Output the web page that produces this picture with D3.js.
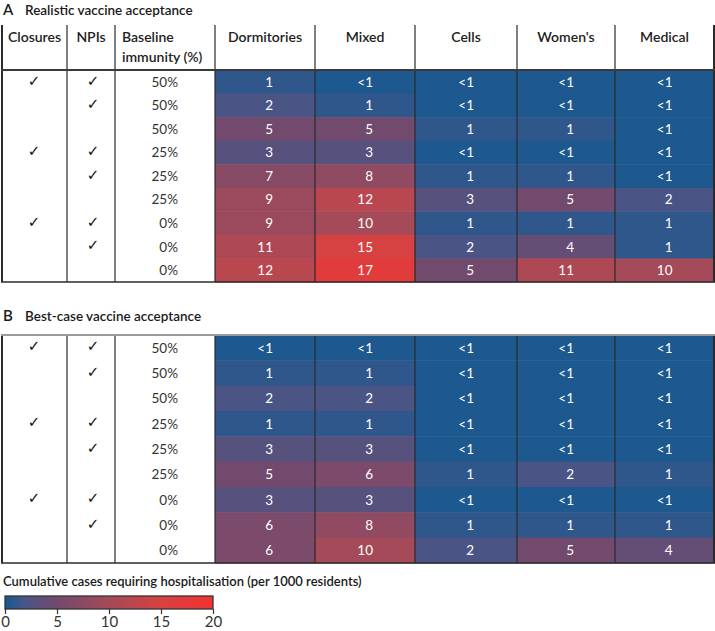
<!DOCTYPE html>
<html>
<head>
<meta charset="utf-8">
<script src="https://cdn.jsdelivr.net/npm/d3@7"></script>
<style>
  html, body { margin: 0; padding: 0; background: #fff; }
  svg { display: block; font-family: Lato, "Open Sans", sans-serif; }
</style>
</head>
<body>
<svg id="chart" width="715" height="631"></svg>
<script>
// ---------- DATA ----------
const settings = ["Dormitories", "Mixed", "Cells", "Women's", "Medical"];
const closures = [1, 0, 0, 1, 0, 0, 1, 0, 0];
const npis     = [1, 1, 0, 1, 1, 0, 1, 1, 0];
const baselineImmunity = [50, 50, 50, 25, 25, 25, 0, 0, 0];
// values below 1 are shown as "<1" (estimated as 0.3)
const realisticDormitories = [1, 2, 5, 3, 7, 9, 9, 11, 12];
const realisticMixed       = [0.3, 1, 5, 3, 8, 12, 10, 15, 17];
const realisticCells       = [0.3, 0.3, 1, 0.3, 1, 3, 1, 2, 5];
const realisticWomens      = [0.3, 0.3, 1, 0.3, 1, 5, 1, 4, 11];
const realisticMedical     = [0.3, 0.3, 0.3, 0.3, 0.3, 2, 1, 1, 10];
const bestDormitories = [0.3, 1, 2, 1, 3, 5, 3, 6, 6];
const bestMixed       = [0.3, 1, 2, 1, 3, 6, 3, 8, 10];
const bestCells       = [0.3, 0.3, 0.3, 0.3, 0.3, 1, 0.3, 1, 2];
const bestWomens      = [0.3, 0.3, 0.3, 0.3, 0.3, 2, 0.3, 1, 5];
const bestMedical     = [0.3, 0.3, 0.3, 0.3, 0.3, 1, 0.3, 1, 4];
const legendTicks = [0, 5, 10, 15, 20];
const legendTitle = "Cumulative cases requiring hospitalisation (per 1000 residents)";

const panels = [
  { letter: "A", title: "Realistic vaccine acceptance",
    series: [realisticDormitories, realisticMixed, realisticCells, realisticWomens, realisticMedical] },
  { letter: "B", title: "Best-case vaccine acceptance",
    series: [bestDormitories, bestMixed, bestCells, bestWomens, bestMedical] }
];

// ---------- SCALES ----------
const color = d3.scaleLinear()
  .domain([0, 2, 5, 10, 15, 20])
  .range(["#15588f", "#4a5586", "#724a6e", "#a44a58", "#d64242", "#f43131"])
  .interpolate(d3.interpolateRgb)
  .clamp(true);

const svg = d3.select("#chart");
const LINE = "#2b2b2b";
const colEdges = [2, 67, 115, 215, 315, 415, 517, 615, 714];
const setEdges = colEdges.slice(3);
const fmt = v => v < 1 ? "<1" : String(v);

const panelLayout = [
  { titleY: 15, headerTop: 25, rowsTop: 70, rowsBottom: 282 },
  { titleY: 321, headerTop: null, rowsTop: 335, rowsBottom: 563 }
];

panels.forEach((p, pi) => {
  const L = panelLayout[pi];
  const g = svg.append("g");
  g.append("text").attr("x", 3).attr("y", L.titleY)
    .attr("font-size", 15).attr("font-weight", 600).attr("fill", "#1a1a1a").text(p.letter);
  g.append("text").attr("x", 25).attr("y", L.titleY)
    .attr("font-size", 13.5).attr("font-weight", 600).attr("fill", "#1a1a1a").text(p.title);

  const rows = d3.range(baselineImmunity.length);
  const y = d3.scaleBand().domain(rows).range([L.rowsTop, L.rowsBottom]).padding(0);
  const cy = i => y(i) + y.bandwidth() / 2;

  // cells
  p.series.forEach((vals, si) => {
    const x0 = setEdges[si], x1 = setEdges[si + 1];
    g.selectAll(null).data(vals).enter().append("rect")
      .attr("x", x0).attr("width", x1 - x0)
      .attr("y", (d, i) => y(i)).attr("height", y.bandwidth() + 0.5)
      .attr("fill", d => color(d));
    g.selectAll(null).data(vals).enter().append("text")
      .attr("x", (x0 + x1) / 2 + 8).attr("y", (d, i) => cy(i))
      .attr("dy", "0.36em").attr("text-anchor", "end")
      .attr("font-size", 13.5).attr("fill", "#fff")
      .text(d => fmt(d));
  });

  // checkmarks
  const checks = (arr, x) => g.selectAll(null)
    .data(arr.map((c, i) => ({ c, i })).filter(d => d.c)).enter().append("text")
    .attr("x", x).attr("y", d => cy(d.i)).attr("dy", "0.25em")
    .attr("text-anchor", "middle")
    .attr("font-family", "DejaVu Sans").attr("font-size", 15).attr("fill", "#111").text("✓");
  checks(closures, 34);
  checks(npis, 93);

  // baseline
  g.selectAll(null).data(baselineImmunity).enter().append("text")
    .attr("x", 178).attr("y", (d, i) => cy(i))
    .attr("dy", "0.36em").attr("text-anchor", "end")
    .attr("font-size", 13.5).attr("fill", "#333").text(d => d + "%");

  // grid lines
  const top = L.headerTop !== null ? L.headerTop : L.rowsTop;
  colEdges.forEach((x, ci) => {
    g.append("line").attr("x1", x).attr("x2", x).attr("y1", top).attr("y2", L.rowsBottom)
      .attr("stroke", LINE).attr("stroke-width", (ci === 0 || ci === colEdges.length - 1) ? 2 : 1.2);
  });
  g.append("line").attr("x1", 1).attr("x2", 715).attr("y1", L.rowsTop).attr("y2", L.rowsTop)
    .attr("stroke", pi === 0 ? "#3a3a3a" : "#9a9a9a").attr("stroke-width", 2);
  g.append("line").attr("x1", 1).attr("x2", 715).attr("y1", L.rowsBottom).attr("y2", L.rowsBottom)
    .attr("stroke", LINE).attr("stroke-width", 1.5);

  // header
  if (L.headerTop !== null) {
    const hy = 42;
    const head = (x, yy, t, anchor) => g.append("text").attr("x", x).attr("y", yy)
      .attr("text-anchor", anchor).attr("font-size", 14).attr("font-weight", 600)
      .attr("fill", "#222").text(t);
    head(34.5, hy, "Closures", "middle");
    head(91, hy, "NPIs", "middle");
    head(122, hy, "Baseline", "start");
    head(122, hy + 20, "immunity (%)", "start");
    settings.forEach((s, si) => head((setEdges[si] + setEdges[si + 1]) / 2, hy, s, "middle"));
  }
});

// ---------- LEGEND ----------
svg.append("text").attr("x", 3).attr("y", 586)
  .attr("font-size", 13).attr("font-weight", 600).attr("fill", "#1a1a1a").text(legendTitle);

const lx = d3.scaleLinear().domain([0, 20]).range([5, 213]);
const grad = svg.append("defs").append("linearGradient").attr("id", "lg")
  .attr("x1", "0%").attr("x2", "100%");
d3.range(0, 20.01, 0.5).forEach(v => {
  grad.append("stop").attr("offset", (v / 20 * 100) + "%").attr("stop-color", color(v));
});
svg.append("rect").attr("x", lx(0)).attr("y", 596).attr("width", lx(20) - lx(0)).attr("height", 13)
  .attr("fill", "url(#lg)").attr("stroke", "#333").attr("stroke-width", 1.3);

const axis = svg.append("g").attr("transform", "translate(0,609)")
  .call(d3.axisBottom(lx).tickValues(legendTicks).tickSize(5).tickPadding(2));
axis.select(".domain").remove();
axis.selectAll("line").attr("stroke", "#333").attr("stroke-width", 1.2);
axis.selectAll("text").attr("font-family", "Lato, sans-serif").attr("font-size", 15).attr("fill", "#333");
</script>
</body>
</html>
